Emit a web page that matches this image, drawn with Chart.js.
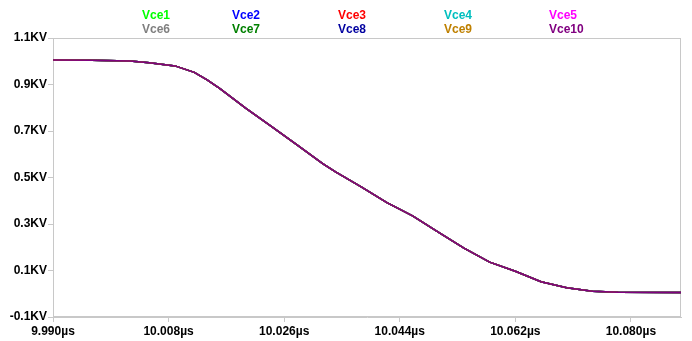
<!DOCTYPE html>
<html>
<head>
<meta charset="utf-8">
<script src="https://cdn.jsdelivr.net/npm/chart.js@4/dist/chart.umd.min.js"></script>
<style>
  html, body { margin: 0; padding: 0; background: #ffffff; }
  #wrap { width: 692px; height: 341px; position: relative; }
</style>
</head>
<body>
<div id="wrap"><canvas id="c"></canvas></div>
<script>
// Turn-off transient: collector-emitter voltage of the ten switches (µs, kV)
const timeUs = [9.990, 9.996, 10.002, 10.005, 10.009, 10.012, 10.014, 10.016, 10.020, 10.024,
  10.028, 10.032, 10.034, 10.038, 10.042, 10.046, 10.050, 10.054, 10.058, 10.062,
  10.066, 10.070, 10.074, 10.078, 10.0878];
const vceKV = [1.005, 1.004, 1.001, 0.994, 0.980, 0.952, 0.920, 0.882, 0.798, 0.720,
  0.640, 0.560, 0.524, 0.460, 0.392, 0.335, 0.265, 0.196, 0.136, 0.097,
  0.052, 0.026, 0.011, 0.006, 0.005];

const seriesNames = ['Vce1', 'Vce2', 'Vce3', 'Vce4', 'Vce5', 'Vce6', 'Vce7', 'Vce8', 'Vce9', 'Vce10'];
const seriesColors = ['#00ff00', '#0000ff', '#ff0000', '#00bfbf', '#ff00ff',
  '#808080', '#008000', '#0000a0', '#bf8000', '#800080'];

const xTickValues = [9.990, 10.008, 10.026, 10.044, 10.062, 10.080];
const yTickValues = [-0.1, 0.1, 0.3, 0.5, 0.7, 0.9, 1.1];

const FRAME = '#c8c8c8';
const FONT = 'Arial, "Liberation Sans", sans-serif';

// All ten voltages share the same waveform; the last one ends up on top.
const datasets = seriesNames.map((name, i) => ({
  label: name,
  data: timeUs.map((t, k) => ({ x: t, y: vceKV[k] })),
  borderColor: seriesColors[i],
  borderWidth: 1.5,
  pointRadius: 0,
  tension: 0,
  order: seriesNames.length - 1 - i
}));

// Two-row legend of coloured names above the plot
const nameLegend = {
  id: 'nameLegend',
  afterDraw(chart) {
    const ctx = chart.ctx;
    const cols = [142, 232, 338, 444, 549];
    const rows = [16, 30];
    ctx.save();
    ctx.font = 'bold 12px ' + FONT;
    ctx.textAlign = 'left';
    ctx.textBaseline = 'middle';
    seriesNames.forEach((name, i) => {
      ctx.fillStyle = seriesColors[i];
      ctx.fillText(name, cols[i % 5], rows[Math.floor(i / 5)]);
    });
    ctx.restore();
  }
};

// Light frame around the plotting area
const plotFrame = {
  id: 'plotFrame',
  beforeDatasetsDraw(chart) {
    const a = chart.chartArea;
    const ctx = chart.ctx;
    ctx.save();
    ctx.strokeStyle = FRAME;
    ctx.lineWidth = 1;
    ctx.strokeRect(Math.round(a.left) + 0.5, Math.round(a.top) + 0.5,
      Math.round(a.right - a.left) - 1, Math.round(a.bottom - a.top) - 1);
    ctx.restore();
  }
};

new Chart(document.getElementById('c'), {
  type: 'line',
  data: { datasets },
  plugins: [nameLegend, plotFrame],
  options: {
    responsive: true,
    maintainAspectRatio: false,
    animation: false,
    layout: { padding: { top: 38, right: 11, left: 0, bottom: 0 } },
    plugins: { legend: { display: false }, tooltip: { enabled: false } },
    scales: {
      x: {
        type: 'linear',
        min: 9.990,
        max: 10.0878,
        afterBuildTicks(s) { s.ticks = xTickValues.map(v => ({ value: v })); },
        afterFit(s) { s.height = 24; },
        ticks: {
          autoSkip: false, maxRotation: 0, padding: 2,
          color: '#000000',
          font: { family: FONT, size: 12, weight: 'bold' },
          callback: v => v.toFixed(3) + 'µs'
        },
        grid: { drawOnChartArea: false, drawTicks: true, tickLength: 5, color: FRAME },
        border: { display: true, color: FRAME }
      },
      y: {
        type: 'linear',
        min: -0.1,
        max: 1.1,
        afterBuildTicks(s) { s.ticks = yTickValues.map(v => ({ value: v })); },
        afterFit(s) { s.width = 53; },
        ticks: {
          padding: 1,
          color: '#000000',
          font: { family: FONT, size: 12, weight: 'bold' },
          callback: v => v.toFixed(1) + 'KV'
        },
        grid: { drawOnChartArea: false, drawTicks: true, tickLength: 5, color: FRAME },
        border: { display: true, color: FRAME }
      }
    }
  }
});
</script>
</body>
</html>
